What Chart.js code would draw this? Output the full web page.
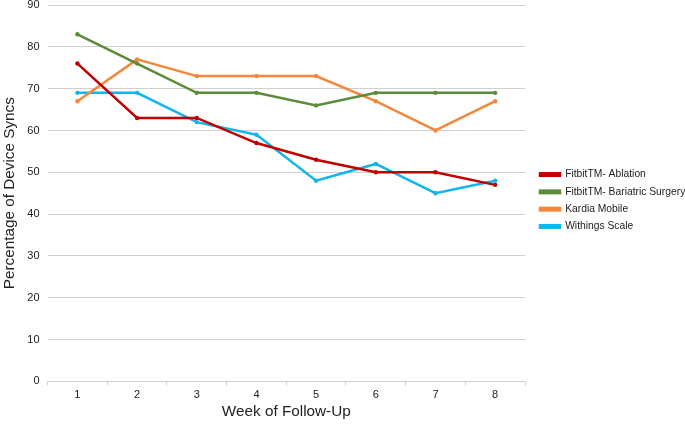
<!DOCTYPE html>
<html>
<head>
<meta charset="utf-8">
<script src="https://cdn.jsdelivr.net/npm/chart.js@4"></script>
<style>
  html, body { margin: 0; padding: 0; background: #fff; }
  #wrap { width: 685px; height: 424px; }
</style>
</head>
<body>
<div id="wrap"><canvas id="grafica"></canvas></div>
<script>
const weeks = ['1', '2', '3', '4', '5', '6', '7', '8'];

const ablation = [76, 63, 63, 57, 53, 50, 50, 47];
const bariatric = [83, 76, 69, 69, 66, 69, 69, 69];
const kardia = [67, 77, 73, 73, 73, 67, 60, 67];
const withings = [69, 69, 62, 59, 48, 52, 45, 48];

const makeSet = (label, data, color) => ({
    label: label,
    data: data,
    borderColor: color,
    backgroundColor: color,
    borderWidth: 2.5,
    pointRadius: 2.2,
    pointBorderWidth: 0,
    pointHoverRadius: 2.2,
    fill: false,
    tension: 0
});

const data = {
    labels: weeks,
    datasets: [
        makeSet('FitbitTM- Ablation', ablation, '#C00000'),
        makeSet('FitbitTM- Bariatric Surgery', bariatric, '#5B8C3A'),
        makeSet('Kardia Mobile', kardia, '#F4873C'),
        makeSet('Withings Scale', withings, '#13B5EA')
    ]
};

const font = { family: 'Liberation Sans, Arial, sans-serif', size: 11 };
const titleFont = { family: font.family, size: 15.3 };

// legend sits in a fixed 160px column right of the plot, nudged like the original
const legendSpot = {
    id: 'legendSpot',
    afterInit(chart) {
        const lg = chart.legend;
        const fit = lg.fit.bind(lg);
        lg.fit = function () { fit(); this.width = 160; };
    },
    afterLayout(chart) {
        const lg = chart.legend;
        const dx = 540 - (lg.left + lg.options.labels.padding);
        const dy = 200.5 - (lg.top + lg.bottom) / 2;
        lg.left += dx; lg.right += dx;
        lg.top += dy; lg.bottom += dy;
    }
};

const config = {
    type: 'line',
    data: data,
    plugins: [legendSpot],
    options: {
        responsive: true,
        maintainAspectRatio: false,
        animation: false,
        layout: { padding: { top: 0, right: 0, left: 1, bottom: 3 } },
        plugins: {
            legend: {
                position: 'right',
                labels: {
                    boxWidth: 20,
                    boxHeight: 2.5,
                    padding: 7,
                    color: '#222',
                    font: { family: font.family, size: 10.3 }
                }
            },
            tooltip: { enabled: false }
        },
        scales: {
            x: {
                offset: true,
                grid: {
                    offset: true,
                    drawOnChartArea: false,
                    tickLength: 4,
                    color: '#d0d0d0'
                },
                border: { color: '#d0d0d0' },
                ticks: { color: '#222', font: font, padding: 3 },
                title: {
                    display: true,
                    text: 'Week of Follow-Up',
                    color: '#222',
                    font: titleFont,
                    padding: { top: -2, bottom: 0 }
                }
            },
            y: {
                min: 0,
                max: 90,
                afterFit(scale) { scale.paddingTop = 5; },
                ticks: { stepSize: 10, color: '#222', font: font, padding: 8 },
                grid: { color: '#d0d0d0', drawTicks: false },
                border: { display: false },
                title: {
                    display: true,
                    text: 'Percentage of Device Syncs',
                    color: '#222',
                    font: titleFont,
                    padding: { top: 0, bottom: 0 }
                }
            }
        }
    }
};

new Chart(document.querySelector('#grafica'), config);
</script>
</body>
</html>
